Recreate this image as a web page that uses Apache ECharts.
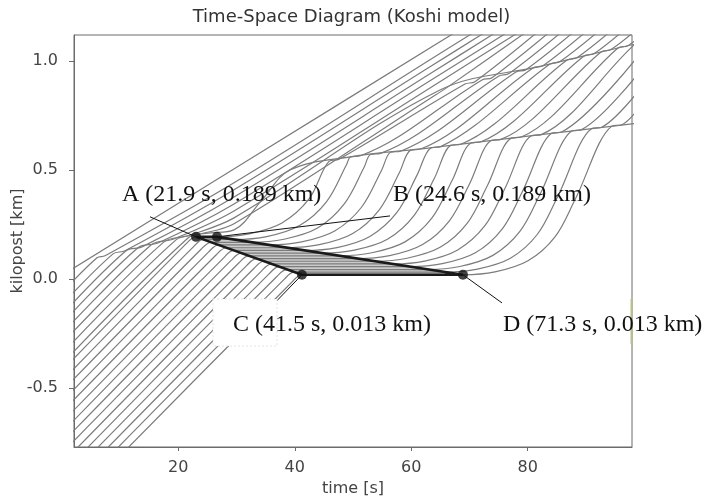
<!DOCTYPE html>
<html><head><meta charset="utf-8">
<script src="https://cdn.jsdelivr.net/npm/echarts@6/dist/echarts.min.js"></script>
<style>html,body{margin:0;padding:0;background:#fff}#c{width:703px;height:499px}</style>
</head><body><div id="c"></div>
<script>
const xTicks = [20, 40, 60, 80];
const yTicks = [-0.5, 0.0, 0.5, 1.0];
// vehicle trajectories: [time s, kilopost km]
const veh01 = [[0.04,0.017],[32.32,0.550],[70.09,1.173]];
const veh02 = [[-0.3,-0.073],[6.05,0.097],[7.42,0.106],[29.57,0.441],[63.22,1.005],[72.66,1.163]];
const veh03 = [[-0.3,-0.128],[8.80,0.115],[10.86,0.129],[29.57,0.409],[63.22,0.973],[74.38,1.160]];
const veh04 = [[-0.3,-0.174],[11.03,0.129],[13.77,0.147],[29.57,0.376],[63.22,0.941],[76.09,1.157]];
const veh05 = [[-0.3,-0.215],[13.09,0.143],[16.52,0.165],[29.57,0.344],[63.22,0.909],[77.81,1.153]];
const veh06 = [[-0.3,-0.261],[15.32,0.156],[19.10,0.182],[29.57,0.312],[63.22,0.876],[79.53,1.150]];
const veh07 = [[-0.3,-0.307],[17.55,0.170],[21.67,0.198],[29.57,0.280],[64.93,0.867],[82.1,0.975],[99.27,1.083]];
const veh08 = [[-0.3,-0.353],[19.61,0.179],[23.39,0.204],[29.57,0.253],[63.22,0.828],[65.86,0.873],[81.48,1.165]];
const veh09 = [[-0.3,-0.399],[21.67,0.188],[24.76,0.209],[29.57,0.225],[34.38,0.363],[39.18,0.500],[49.48,0.560],[63.22,0.601],[80.39,0.656],[99.27,0.716]];
const veh10 = [[-0.3,-0.431],[21.33,0.161],[23.05,0.193],[26.65,0.193],[32.14,0.207],[37.81,0.257],[42.45,0.367],[45.88,0.539],[47.60,0.549],[69.23,0.894],[70.94,0.905],[83.13,1.165]];
const veh11 = [[-0.3,-0.478],[22.63,0.148],[24.35,0.181],[29.67,0.181],[35.17,0.194],[40.83,0.245],[45.47,0.355],[48.90,0.525],[49.57,0.560],[51.29,0.565],[72.15,0.913],[73.86,0.923],[85.19,1.165]];
const veh12 = [[-0.3,-0.525],[23.92,0.136],[25.64,0.168],[32.68,0.168],[38.17,0.182],[43.84,0.232],[48.47,0.343],[51.91,0.512],[53.00,0.571],[54.72,0.576],[75.06,0.931],[76.78,0.942],[87.25,1.165]];
const veh13 = [[-0.3,-0.573],[25.23,0.124],[26.94,0.156],[35.70,0.156],[41.19,0.170],[46.86,0.220],[51.49,0.330],[54.93,0.500],[56.44,0.581],[58.15,0.586],[77.98,0.949],[79.70,0.960],[89.31,1.165]];
const veh14 = [[-0.3,-0.620],[26.53,0.111],[28.25,0.143],[38.72,0.143],[44.21,0.157],[49.88,0.207],[54.51,0.317],[57.95,0.487],[59.89,0.591],[61.60,0.596],[80.90,0.968],[82.62,0.978],[91.37,1.165]];
const veh15 = [[-0.3,-0.667],[27.84,0.098],[29.55,0.131],[41.74,0.131],[47.24,0.144],[52.90,0.195],[57.54,0.305],[60.97,0.475],[63.34,0.601],[65.05,0.607],[83.82,0.986],[85.54,0.997],[93.43,1.165]];
const veh16 = [[-0.3,-0.714],[29.12,0.086],[30.84,0.118],[44.75,0.118],[50.24,0.132],[55.91,0.182],[60.54,0.293],[63.97,0.462],[66.79,0.613],[68.51,0.618],[86.74,1.004],[88.46,1.015],[95.49,1.165]];
const veh17 = [[-0.3,-0.761],[30.43,0.074],[32.14,0.106],[47.77,0.106],[53.26,0.120],[58.93,0.170],[63.56,0.280],[66.99,0.450],[70.24,0.624],[71.96,0.629],[89.66,1.023],[91.37,1.033],[97.55,1.165]];
const veh18 = [[-0.3,-0.808],[31.73,0.061],[33.45,0.093],[50.79,0.093],[56.28,0.107],[61.95,0.158],[66.58,0.268],[70.02,0.437],[73.71,0.635],[75.43,0.640],[92.58,1.041],[94.29,1.052],[99.61,1.165]];
const veh19 = [[-0.3,-0.856],[33.02,0.049],[34.74,0.081],[53.79,0.081],[59.29,0.095],[64.95,0.145],[69.59,0.255],[73.02,0.425],[77.16,0.646],[78.88,0.651],[95.49,1.059],[97.21,1.070],[101.68,1.165]];
const veh20 = [[-0.3,-0.903],[34.32,0.037],[36.04,0.069],[56.81,0.069],[62.31,0.082],[67.97,0.133],[72.61,0.243],[76.04,0.413],[80.61,0.657],[82.33,0.662],[98.41,1.077],[100.13,1.088]];
const veh21 = [[-0.3,-0.950],[35.63,0.024],[37.35,0.056],[59.84,0.056],[65.33,0.070],[71.00,0.120],[75.63,0.230],[79.07,0.400],[84.09,0.668],[85.81,0.674],[99.27,1.033]];
const veh22 = [[-0.3,-0.997],[36.93,0.011],[38.65,0.043],[62.86,0.043],[68.35,0.057],[74.02,0.108],[78.65,0.218],[82.09,0.387],[87.53,0.679],[89.25,0.685],[99.27,0.953]];
const veh23 = [[-0.3,-1.044],[38.22,-0.001],[39.94,0.031],[65.86,0.031],[71.36,0.045],[77.02,0.095],[81.66,0.205],[85.09,0.375],[90.98,0.690],[92.70,0.696],[99.27,0.871]];
const veh24 = [[-0.3,-1.091],[39.53,-0.014],[41.24,0.019],[68.88,0.019],[74.38,0.032],[80.04,0.083],[84.68,0.193],[88.11,0.363],[94.45,0.701],[96.16,0.707],[99.27,0.790]];
// marked points
const pointA = [23.05, 0.193];
const pointB = [26.65, 0.193];
const pointC = [41.24, 0.019];
const pointD = [68.88, 0.019];
const labelA = 'A (21.9 s, 0.189 km)';
const labelB = 'B (24.6 s, 0.189 km)';
const labelC = 'C (41.5 s, 0.013 km)';
const labelD = 'D (71.3 s, 0.013 km)';
const leadA = [[15.15, 0.285], pointA];
const leadB = [pointB, [56.35, 0.289]];
const leadC = [pointC, [35.41, -0.142]];
const leadD = [pointD, [75.58, -0.110]];

const vehicles = [veh01,veh02,veh03,veh04,veh05,veh06,veh07,veh08,veh09,veh10,veh11,veh12,
  veh13,veh14,veh15,veh16,veh17,veh18,veh19,veh20,veh21,veh22,veh23,veh24];

const chart = echarts.init(document.getElementById('c'), null, {renderer: 'canvas'});
const series = [];
series.push({
  type: 'custom', z: 1, silent: true,
  data: [pointA, pointB, pointD, pointC],
  renderItem: function (params, api) {
    if (params.dataIndex !== 0) return null;
    const pts = [pointA, pointB, pointD, pointC].map(p => api.coord(p));
    return {type: 'polygon', shape: {points: pts}, style: {fill: '#cbcbcb'}};
  }
});
vehicles.forEach(v => series.push({
  type: 'line', data: v, showSymbol: false, smooth: 0.35, z: 2, silent: true,
  lineStyle: {color: '#7c7c7c', width: 1.2}
}));
series.push({type: 'line', data: [pointA, pointB, pointD, pointC, pointA], showSymbol: false, z: 3,
  lineStyle: {color: '#1a1a1a', width: 2.6}});
[leadA, leadB, leadC, leadD].forEach(l => series.push({type: 'line', data: l, showSymbol: false, z: 3,
  lineStyle: {color: '#111', width: 1}}));
series.push({type: 'scatter', data: [pointA, pointB, pointC, pointD], symbolSize: 10, z: 4,
  itemStyle: {color: '#111'}});

const serif = '"Liberation Serif", "Times New Roman", serif';
const fnt = 'DejaVu Sans';
chart.setOption({
  animation: false,
  title: {text: 'Time-Space Diagram (Koshi model)', left: 'center', top: 8, padding: 0,
    textStyle: {fontFamily: fnt, fontSize: 18, fontWeight: 'normal', color: '#333'}},
  grid: {left: 74, right: 71, top: 35, bottom: 52, show: true, borderColor: '#6b6b6b', borderWidth: 1,
    containLabel: false, outerBoundsMode: 'none'},
  xAxis: {type: 'value', min: 2.1, max: 97.9,
    name: 'time [s]', nameLocation: 'middle', nameGap: 34, nameMoveOverlap: false,
    nameTextStyle: {fontFamily: fnt, fontSize: 16, color: '#444'},
    axisLine: {show: true, onZero: false, lineStyle: {color: '#6b6b6b', width: 1}},
    axisTick: {show: true, length: 4, customValues: xTicks, lineStyle: {color: '#6b6b6b'}},
    axisLabel: {customValues: xTicks, fontFamily: fnt, fontSize: 16, color: '#444', margin: 13},
    splitLine: {show: false}},
  yAxis: {type: 'value', min: -0.771, max: 1.119,
    name: 'kilopost [km]', nameLocation: 'middle', nameGap: 48, nameRotate: 90, nameMoveOverlap: false,
    nameTextStyle: {fontFamily: fnt, fontSize: 16, color: '#444'},
    axisLine: {show: true, onZero: false, lineStyle: {color: '#6b6b6b', width: 1}},
    axisTick: {show: true, length: 5, customValues: yTicks, lineStyle: {color: '#6b6b6b'}},
    axisLabel: {customValues: yTicks, fontFamily: fnt, fontSize: 16, color: '#444', margin: 16,
      formatter: v => (v < 0 ? '-' : '') + Math.abs(v).toFixed(1)},
    splitLine: {show: false}},
  graphic: [
    {type: 'rect', z: 100, shape: {x: 213, y: 299, width: 64, height: 47},
      style: {fill: '#fff', stroke: '#e4e4e4', lineWidth: 1, lineDash: [2, 2]}},
    {type: 'line', z: 101, shape: {x1: 631.5, y1: 299, x2: 631.5, y2: 344},
      style: {stroke: '#b8c28a', lineWidth: 2}},
    {type: 'text', z: 102, x: 122, y: 195, style: {text: labelA, font: '24px ' + serif, fill: '#111', verticalAlign: 'middle'}},
    {type: 'text', z: 102, x: 393, y: 195, style: {text: labelB, font: '24px ' + serif, fill: '#111', verticalAlign: 'middle'}},
    {type: 'text', z: 102, x: 233, y: 325, style: {text: labelC, font: '24px ' + serif, fill: '#111', verticalAlign: 'middle'}},
    {type: 'text', z: 102, x: 503, y: 325, style: {text: labelD, font: '24px ' + serif, fill: '#111', verticalAlign: 'middle'}}
  ],
  series: series
});
</script></body></html>
